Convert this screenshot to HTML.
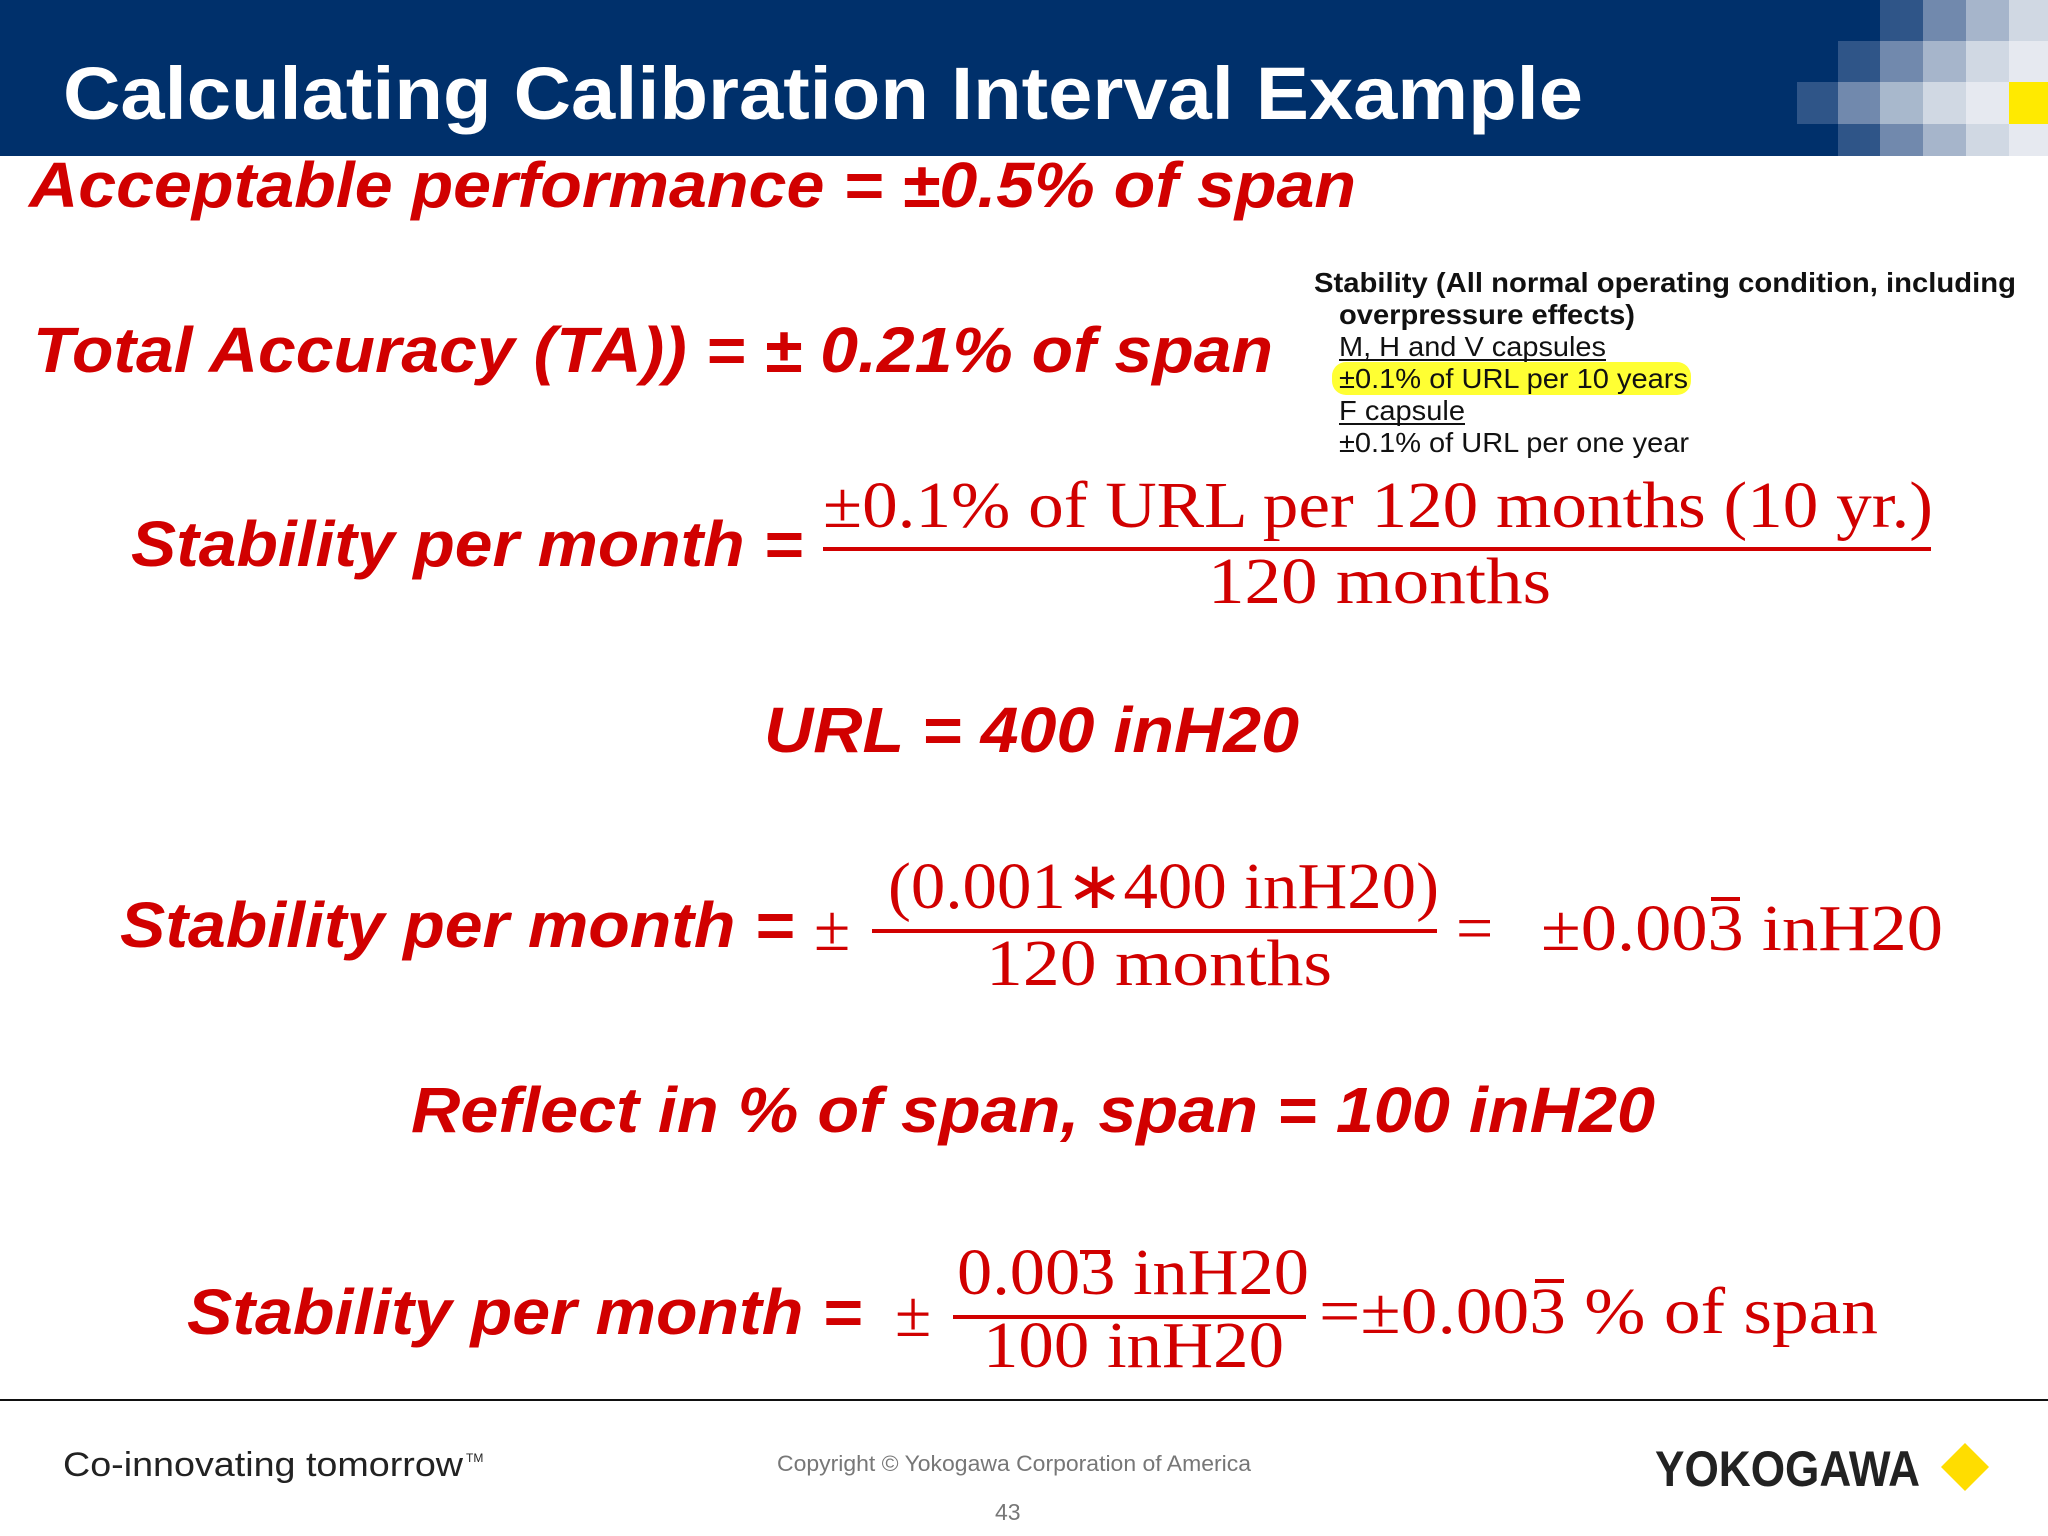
<!DOCTYPE html>
<html><head><meta charset="utf-8"><style>
html,body{margin:0;padding:0;background:#fff}
svg{display:block}
.r{fill:#d10000;font-family:"Liberation Sans",sans-serif;font-weight:bold;font-style:italic}
.s{fill:#d10000;font-family:"Liberation Serif",serif}
.k{fill:#111;font-family:"Liberation Sans",sans-serif}
</style></head><body>
<svg width="2048" height="1536" viewBox="0 0 2048 1536">
<g>
<rect x="0" y="0" width="2048" height="156" fill="#00306b"/>
<rect x="1880" y="0" width="43" height="41" fill="#2f5588"/><rect x="1923" y="0" width="43" height="41" fill="#7189ad"/><rect x="1966" y="0" width="43" height="41" fill="#a6b5cb"/><rect x="2009" y="0" width="39" height="41" fill="#d0d8e3"/>
<rect x="1838" y="41" width="42" height="41" fill="#2f5588"/><rect x="1880" y="41" width="43" height="41" fill="#7189ad"/><rect x="1923" y="41" width="43" height="41" fill="#a6b5cb"/><rect x="1966" y="41" width="43" height="41" fill="#d0d8e3"/><rect x="2009" y="41" width="39" height="41" fill="#e6e9f0"/>
<rect x="1797" y="82" width="41" height="42" fill="#2f5588"/><rect x="1838" y="82" width="42" height="42" fill="#7189ad"/><rect x="1880" y="82" width="43" height="42" fill="#a8b8cc"/><rect x="1923" y="82" width="43" height="42" fill="#d0d8e3"/><rect x="1966" y="82" width="43" height="42" fill="#e6e9f0"/><rect x="2009" y="82" width="39" height="42" fill="#ffea00"/>
<rect x="1838" y="124" width="42" height="32" fill="#2f5588"/><rect x="1880" y="124" width="43" height="32" fill="#7189ad"/><rect x="1923" y="124" width="43" height="32" fill="#a6b5cb"/><rect x="1966" y="124" width="43" height="32" fill="#d0d8e3"/><rect x="2009" y="124" width="39" height="32" fill="#e6e9f0"/>
<text x="63" y="119" fill="#fff" font-family="Liberation Sans,sans-serif" font-weight="bold" font-size="74" textLength="1520" lengthAdjust="spacingAndGlyphs">Calculating Calibration Interval Example</text>
</g>
<text class="r" x="29" y="207" font-size="64" textLength="1327" lengthAdjust="spacingAndGlyphs">Acceptable performance = ±0.5% of span</text>
<text class="r" x="33" y="372" font-size="64" textLength="1240" lengthAdjust="spacingAndGlyphs">Total Accuracy (TA)) = ± 0.21% of span</text>
<g>
<rect x="1332" y="362" width="359" height="33" rx="14" fill="#ffff33"/>
<text class="k" x="1314" y="292" font-size="28" font-weight="bold" textLength="702" lengthAdjust="spacingAndGlyphs">Stability (All normal operating condition, including</text>
<text class="k" x="1339" y="324" font-size="28" font-weight="bold" textLength="296" lengthAdjust="spacingAndGlyphs">overpressure effects)</text>
<text class="k" x="1339" y="356" font-size="28" textLength="267" lengthAdjust="spacingAndGlyphs">M, H and V capsules</text>
<line x1="1339" y1="360" x2="1606" y2="360" stroke="#111" stroke-width="2"/>
<text class="k" x="1339" y="388" font-size="28" textLength="349" lengthAdjust="spacingAndGlyphs">±0.1% of URL per 10 years</text>
<text class="k" x="1339" y="420" font-size="28" textLength="126" lengthAdjust="spacingAndGlyphs">F capsule</text>
<line x1="1339" y1="424" x2="1465" y2="424" stroke="#111" stroke-width="2"/>
<text class="k" x="1339" y="452" font-size="28" textLength="350" lengthAdjust="spacingAndGlyphs">±0.1% of URL per one year</text>
</g>
<g>
<text class="r" x="131" y="566" font-size="64" textLength="672" lengthAdjust="spacingAndGlyphs">Stability per month =</text>
<text class="s" x="823" y="527" font-size="66" textLength="1110" lengthAdjust="spacingAndGlyphs">±0.1% of URL per 120 months (10 yr.)</text>
<line x1="823" y1="549" x2="1931" y2="549" stroke="#d10000" stroke-width="4"/>
<text class="s" x="1208" y="603" font-size="66" textLength="343" lengthAdjust="spacingAndGlyphs">120 months</text>
</g>
<text class="r" x="764" y="752" font-size="64" textLength="535" lengthAdjust="spacingAndGlyphs">URL = 400 inH20</text>
<g>
<text class="r" x="120" y="947" font-size="64" textLength="674" lengthAdjust="spacingAndGlyphs">Stability per month =</text>
<text class="s" x="814" y="950" font-size="66">±</text>
<text class="s" x="888" y="908" font-size="66" textLength="551" lengthAdjust="spacingAndGlyphs">(0.001∗400 inH20)</text>
<line x1="872" y1="931" x2="1437" y2="931" stroke="#d10000" stroke-width="4"/>
<text class="s" x="986" y="985" font-size="66" textLength="346" lengthAdjust="spacingAndGlyphs">120 months</text>
<text class="s" x="1456" y="950" font-size="66">=</text>
<text class="s" x="1541" y="950" font-size="66" textLength="402" lengthAdjust="spacingAndGlyphs">±0.003 inH20</text>
<line x1="1711" y1="899" x2="1740" y2="899" stroke="#d10000" stroke-width="4"/>
</g>
<text class="r" x="411" y="1132" font-size="64" textLength="1244" lengthAdjust="spacingAndGlyphs">Reflect in % of span, span = 100 inH20</text>
<g>
<text class="r" x="187" y="1334" font-size="64" textLength="675" lengthAdjust="spacingAndGlyphs">Stability per month =</text>
<text class="s" x="895" y="1336" font-size="66">±</text>
<text class="s" x="957" y="1294" font-size="66" textLength="352" lengthAdjust="spacingAndGlyphs">0.003 inH20</text>
<line x1="1080" y1="1252" x2="1110" y2="1252" stroke="#d10000" stroke-width="4"/>
<line x1="953" y1="1317" x2="1306" y2="1317" stroke="#d10000" stroke-width="4"/>
<text class="s" x="983" y="1367" font-size="66" textLength="301" lengthAdjust="spacingAndGlyphs">100 inH20</text>
<text class="s" x="1319" y="1333" font-size="66" textLength="559" lengthAdjust="spacingAndGlyphs">=±0.003 % of span</text>
<line x1="1535" y1="1281" x2="1564" y2="1281" stroke="#d10000" stroke-width="4"/>
</g>
<g>
<line x1="0" y1="1400" x2="2048" y2="1400" stroke="#111" stroke-width="2"/>
<text x="63" y="1476" fill="#222" font-family="Liberation Sans,sans-serif" font-size="34" textLength="400" lengthAdjust="spacingAndGlyphs">Co-innovating tomorrow</text>
<text x="466" y="1462" fill="#222" font-family="Liberation Sans,sans-serif" font-size="12">TM</text>
<text x="777" y="1471" fill="#777" font-family="Liberation Sans,sans-serif" font-size="22" textLength="474" lengthAdjust="spacingAndGlyphs">Copyright © Yokogawa Corporation of America</text>
<text x="995" y="1520" fill="#777" font-family="Liberation Sans,sans-serif" font-size="23">43</text>
<text x="1655" y="1486" fill="#222" font-family="Liberation Sans,sans-serif" font-weight="bold" font-size="50" textLength="265" lengthAdjust="spacingAndGlyphs">YOKOGAWA</text>
<polygon points="1965,1443 1989,1467 1965,1491 1941,1467" fill="#ffdd00"/>
</g>
</svg>
</body></html>
